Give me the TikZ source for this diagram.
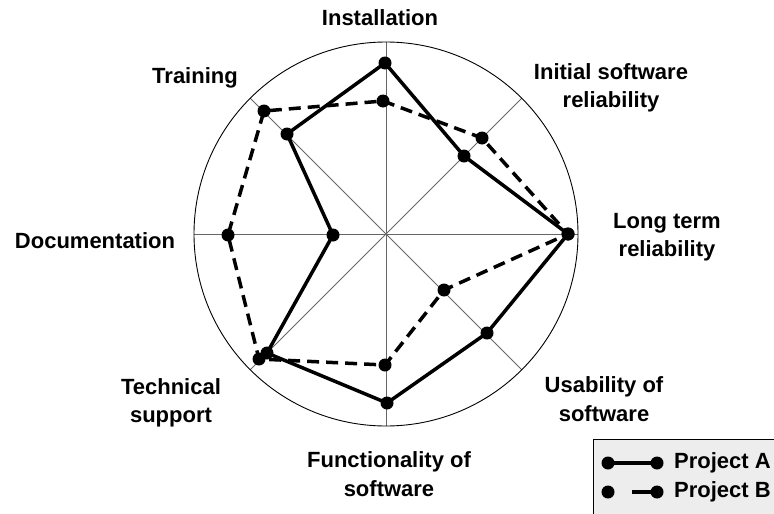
\documentclass[tikz,border=0pt]{standalone}
\usepackage{fontspec}
\setmainfont{Liberation Sans}
\begin{document}
\begin{tikzpicture}[x=1pt,y=-1pt,
  lbl/.style={font=\fontsize{22}{28.5}\selectfont\bfseries, align=center, inner sep=0pt},
  spoke/.style={draw=black!60, line width=0.8pt},
  serA/.style={draw=black, line width=3.5pt, line join=round},
  serB/.style={draw=black, line width=3.5pt, dash pattern=on 12pt off 7pt, line join=round},
  dot/.style={circle, fill=black, inner sep=0pt, minimum size=13pt}]
\useasboundingbox (0,0) rectangle (774,514);
\coordinate (c) at (386,234);
% spokes and rim
\begin{scope}[shift={(386,234)}]
\foreach \a in {0,45,...,315} {
  \coordinate (s\a) at (\a:192);
  \draw[spoke] (c) -- (s\a);
}
\end{scope}
\draw[black, line width=0.9pt] (c) circle[radius=192];
% Project A
\coordinate (a1) at (385,63);
\coordinate (a2) at (464,156);
\coordinate (a3) at (568,234);
\coordinate (a4) at (487,333);
\coordinate (a5) at (387,403);
\coordinate (a6) at (267,353);
\coordinate (a7) at (333,235);
\coordinate (a8) at (287,134);
% Project B
\coordinate (b1) at (383,101);
\coordinate (b2) at (482,138);
\coordinate (b3) at (568,234);
\coordinate (b4) at (444,290);
\coordinate (b5) at (385,365);
\coordinate (b6) at (259,359);
\coordinate (b7) at (228,235);
\coordinate (b8) at (264,111);
\draw[serB] (b1) -- (b2) -- (b3) -- (b4) -- (b5) -- (b6) -- (b7) -- (b8) -- cycle;
\draw[serA] (a1) -- (a2) -- (a3) -- (a4) -- (a5) -- (a6) -- (a7) -- (a8) -- cycle;
\foreach \p in {a1,a2,a3,a4,a5,a6,a7,a8,b1,b2,b3,b4,b5,b6,b7,b8}
  \node[dot] at (\p) {};
% labels
\node[lbl] (l1) at (380,18) {Installation};
\node[lbl] (l2) at (611,88) {Initial software\\reliability};
\node[lbl] (l3) at (667,237) {Long term\\reliability};
\node[lbl] (l4) at (604,399) {Usability of\\software};
\node[lbl] (l5) at (389,474) {Functionality of\\software};
\node[lbl] (l6) at (171,403) {Technical\\support};
\node[lbl] (l7) at (95,241) {Documentation};
\node[lbl] (l8) at (195,78) {Training};
% legend
\draw[black, fill=black!7, line width=0.8pt] (593,439) rectangle (790,530);
\coordinate (la1) at (608,463);
\coordinate (la2) at (657,463);
\coordinate (lb1) at (608,492);
\coordinate (lb3) at (632,492);
\coordinate (lb2) at (657,492);
\draw[black, line width=3.5pt] (la1) -- (la2);
\draw[black, line width=3.5pt] (lb3) -- (lb2);
\foreach \p in {la1,la2,lb1,lb2} \node[dot] at (\p) {};
\node[lbl, anchor=west] (ta) at (674,463) {Project A};
\node[lbl, anchor=west] (tb) at (674,492) {Project B};
\end{tikzpicture}
\end{document}
